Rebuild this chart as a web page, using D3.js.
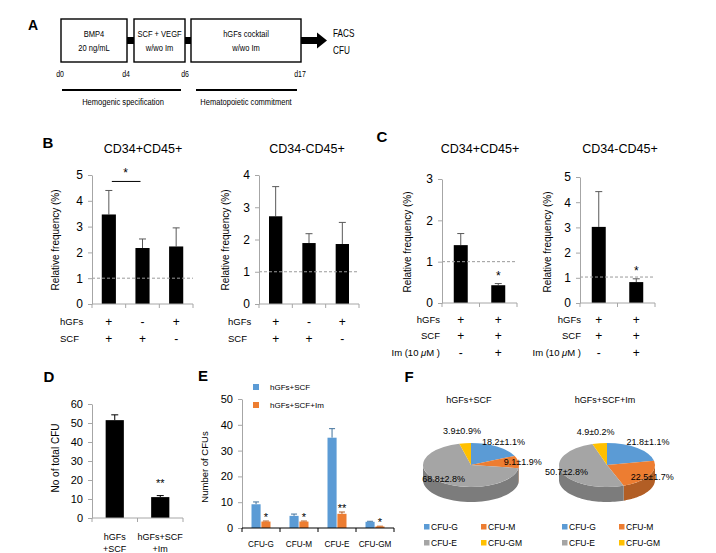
<!DOCTYPE html>
<html><head><meta charset="utf-8">
<script src="https://cdn.jsdelivr.net/npm/d3@7"></script>
<style>
body{margin:0;background:#fff;}
text{font-family:"Liberation Sans",Arial,sans-serif;fill:#000;}
</style></head><body>
<svg id="fig" width="716" height="553"></svg>
<script>
// ---------------- DATA ----------------
// Panel A (protocol diagram)
const stageLabels = [["BMP4","20 ng/mL"],["SCF + VEGF","w/wo Im"],["hGFs cocktail","w/wo Im"]];
const dayLabels = ["d0","d4","d6","d17"];
const phaseLabels = ["Hemogenic specification","Hematopoietic commitment"];
const readoutLabels = ["FACS","CFU"];
// Panel B
const bTitles = ["CD34+CD45+","CD34-CD45+"];
const bConditions = ["hGFs","SCF"];
const bSigns = [["+","-","+"],["+","+","-"]];
const b1Mean = [3.47, 2.17, 2.23];
const b1Err  = [0.93, 0.35, 0.72];
const b2Mean = [2.72, 1.89, 1.86];
const b2Err  = [0.92, 0.29, 0.67];
// Panel C
const cTitles = ["CD34+CD45+","CD34-CD45+"];
const cConditions = ["hGFs","SCF","Im (10 μM )"];
const cSigns = [["+","+"],["+","+"],["-","+"]];
const c1Mean = [1.40, 0.43];
const c1Err  = [0.28, 0.04];
const c2Mean = [3.02, 0.83];
const c2Err  = [1.40, 0.13];
const cStars = ["","*"];
// Panel D
const dGroups = [["hGFs","+SCF"],["hGFs+SCF","+Im"]];
const dMean = [51.5, 11.0];
const dErr  = [2.8, 0.8];
const dStars = ["","**"];
// Panel E
const eSeries = ["hGFs+SCF","hGFs+SCF+Im"];
const eTypes = ["CFU-G","CFU-M","CFU-E","CFU-GM"];
const eSCF    = [9.2, 4.7, 35.0, 2.4];
const eSCFErr = [0.9, 0.7, 3.5, 0.2];
const eIm     = [2.5, 2.5, 5.5, 0.6];
const eImErr  = [0.2, 0.2, 0.7, 0.1];
const eStars  = ["*","*","**","*"];
// Panel F
const fTitles = ["hGFs+SCF","hGFs+SCF+Im"];
const fTypes = ["CFU-G","CFU-M","CFU-E","CFU-GM"];
const fSCF   = [18.2, 9.1, 68.8, 3.9];
const fSCFsd = [1.1, 1.9, 2.8, 0.9];
const fIm    = [21.8, 22.5, 50.7, 4.9];
const fImSd  = [1.1, 1.7, 2.8, 0.2];

// ---------------- STYLE ----------------
const AX = "#a6a6a6";
const COLORS = ["#5B9BD5","#ED7D31","#A5A5A5","#FFC000"];
const svg = d3.select("#fig");

function txt(x, y, s, size, anchor, opts = {}) {
  const t = svg.append("text").attr("font-size", size)
    .attr("text-anchor", anchor || "start").attr("dy", "0.35em").text(s);
  if (opts.squeeze) t.attr("transform", `translate(${x},${y}) scale(${opts.squeeze},1)`);
  else t.attr("x", x).attr("y", y);
  if (opts.bold) t.attr("font-weight", "bold");
  return t;
}
function letter(x, y, s, size) { txt(x, y, s, size, "middle", {bold: true}); }
function yLabel(x, y, s, size) {
  svg.append("text").attr("transform", `translate(${x},${y}) rotate(-90)`)
    .attr("text-anchor", "middle").attr("dy", "0.35em").attr("font-size", size).text(s);
}

// ---------------- PANEL A ----------------
letter(33, 25, "A", 14);
const boxes = [[61,127],[134,185],[191,301]];
const bxTop = 19, bxBot = 62;
[[127,134],[185,191],[301,318]].forEach(([a,b]) =>
  svg.append("rect").attr("x", a).attr("y", 37).attr("width", b - a).attr("height", 7).attr("fill", "#000"));
svg.append("path").attr("d", "M317,32.5L327,40.5L317,48.5Z").attr("fill", "#000");
const NA = {squeeze: 0.82};
boxes.forEach(([a,b], i) => {
  svg.append("rect").attr("x", a).attr("y", bxTop).attr("width", b - a).attr("height", bxBot - bxTop)
    .attr("fill", "#fff").attr("stroke", "#000").attr("stroke-width", 1.4);
  txt((a + b) / 2, 34, stageLabels[i][0], 9.2, "middle", NA);
  txt((a + b) / 2, 48, stageLabels[i][1], 9.2, "middle", NA);
});
txt(333, 33, readoutLabels[0], 10, "start", NA);
txt(333, 50, readoutLabels[1], 10, "start", NA);
[60,126,185,300].forEach((x, i) => txt(x, 74, dayLabels[i], 8.5, "middle", NA));
[[62,181],[196,297]].forEach(([a,b], i) => {
  svg.append("line").attr("x1", a).attr("x2", b).attr("y1", 90).attr("y2", 90).attr("stroke", "#000").attr("stroke-width", 1.8);
  txt(i === 0 ? 123 : 246, 102, phaseLabels[i], 9.2, "middle", NA);
});

// ---------------- generic bar chart ----------------
function barChart(o) {
  const g = svg.append("g");
  const n = o.mean.length;
  const x = d3.scaleBand().domain(d3.range(n)).range([o.x0, o.x1]).paddingInner(o.pad).paddingOuter(o.pad / 2);
  const y = d3.scaleLinear().domain([0, o.yMax]).range([o.y0, o.y1]);
  const bw = x.bandwidth();
  const cx = i => x(i) + bw / 2;
  const eg = g.append("g").attr("stroke", o.errColor || "#595959").attr("stroke-width", 1);
  o.mean.forEach((d, i) => {
    const top = y(d + o.err[i]);
    eg.append("line").attr("x1", cx(i)).attr("x2", cx(i)).attr("y1", y(d)).attr("y2", top);
    eg.append("line").attr("x1", cx(i) - 3.5).attr("x2", cx(i) + 3.5).attr("y1", top).attr("y2", top);
  });
  g.selectAll("rect.bar").data(o.mean).join("rect").attr("class", "bar")
    .attr("x", (d, i) => x(i)).attr("y", d => y(d)).attr("width", bw)
    .attr("height", d => y(0) - y(d)).attr("fill", "#000");
  if (o.ref != null) {
    g.append("line").attr("x1", o.x0).attr("x2", o.x1).attr("y1", y(o.ref)).attr("y2", y(o.ref))
      .attr("stroke", "#9a9a9a").attr("stroke-width", 1).attr("stroke-dasharray", "3,2");
  }
  const ay = g.append("g").attr("transform", `translate(${o.x0},0)`)
    .call(d3.axisLeft(y).ticks(o.nTicks).tickSize(4).tickSizeOuter(0).tickPadding(5));
  ay.attr("font-family", null).attr("font-size", o.tickFont || 12);
  ay.selectAll("path,line").attr("stroke", AX);
  ay.selectAll("text").attr("fill", "#000");
  g.append("line").attr("x1", o.x0).attr("x2", o.x1).attr("y1", y(0)).attr("y2", y(0)).attr("stroke", AX);
  g.selectAll("line.xt").data(d3.range(n + 1)).join("line").attr("class", "xt")
    .attr("x1", i => o.x0 + i * x.step()).attr("x2", i => o.x0 + i * x.step())
    .attr("y1", y(0)).attr("y2", y(0) + 4).attr("stroke", AX);
  if (o.stars) o.stars.forEach((s, i) => {
    if (!s) return;
    g.append("text").attr("x", cx(i)).attr("y", y(o.mean[i] + o.err[i]) - o.starGap)
      .attr("text-anchor", "middle").attr("font-size", o.starFont || 12).text(s);
  });
  return {x, y, cx, g};
}

// ---------------- PANEL B ----------------
letter(48, 143, "B", 15);
const B1 = barChart({x0: 92, x1: 193, y0: 304, y1: 175, yMax: 5, nTicks: 5, pad: 0.58, mean: b1Mean, err: b1Err, ref: 1});
const B2 = barChart({x0: 259, x1: 359, y0: 304, y1: 175, yMax: 4, nTicks: 4, pad: 0.6, mean: b2Mean, err: b2Err, ref: 1});
txt(143, 149, bTitles[0], 12.5, "middle");
txt(307, 149, bTitles[1], 12.5, "middle");
yLabel(55, 240, "Relative frequency (%)", 10);
yLabel(225, 240, "Relative frequency (%)", 10);
B1.g.append("line").attr("x1", B1.cx(0) + 3).attr("x2", B1.cx(1) - 2)
  .attr("y1", B1.y(4.75)).attr("y2", B1.y(4.75)).attr("stroke", "#000");
B1.g.append("text").attr("x", (B1.cx(0) + B1.cx(1)) / 2).attr("y", B1.y(4.75) - 4)
  .attr("text-anchor", "middle").attr("font-size", 12).text("*");
[[B1, 60],[B2, 228]].forEach(([C, lx]) => {
  [322, 339].forEach((ry, r) => {
    txt(lx, ry, bConditions[r], 9.5, "start");
    bSigns[r].forEach((s, i) => txt(C.cx(i), ry, s, 12, "middle"));
  });
});

// ---------------- PANEL C ----------------
letter(382, 137, "C", 15);
const C1 = barChart({x0: 442, x1: 517, y0: 303, y1: 179, yMax: 3, nTicks: 3, pad: 0.627, mean: c1Mean, err: c1Err, ref: 1, stars: cStars, starGap: 4});
const C2 = barChart({x0: 580, x1: 655, y0: 303, y1: 177, yMax: 5, nTicks: 5, pad: 0.627, mean: c2Mean, err: c2Err, ref: 1.03, stars: cStars, starGap: 4});
txt(480, 149, cTitles[0], 12.5, "middle");
txt(620, 149, cTitles[1], 12.5, "middle");
yLabel(407, 242, "Relative frequency (%)", 10);
yLabel(547, 242, "Relative frequency (%)", 10);
[[C1, 440],[C2, 581]].forEach(([C, lx]) => {
  [320, 336, 353].forEach((ry, r) => {
    const t = txt(lx, ry, "", 9.5, "end");
    if (r === 2) {
      t.append("tspan").text("Im (10 ");
      t.append("tspan").attr("font-style", "italic").text("μ");
      t.append("tspan").text("M )");
    } else t.text(cConditions[r]);
    cSigns[r].forEach((s, i) => txt(C.cx(i), ry, s, 12, "middle"));
  });
});

// ---------------- PANEL D ----------------
letter(49, 377, "D", 15);
const D = barChart({x0: 92, x1: 183, y0: 518, y1: 404, yMax: 60, nTicks: 6, pad: 0.6, mean: dMean, err: dErr, errColor: "#000", tickFont: 11, stars: dStars, starGap: 9, starFont: 11});
yLabel(55, 458, "No of total CFU", 10);
dGroups.forEach((lines, i) => {
  txt(D.cx(i), 537, lines[0], 9, "middle");
  txt(D.cx(i), 549, lines[1], 9, "middle");
});

// ---------------- PANEL E ----------------
letter(203, 376, "E", 15);
(function () {
  const x0 = 242, x1 = 394, y0 = 528, y1 = 399;
  const g = svg.append("g");
  const x = d3.scaleBand().domain(eTypes).range([x0, x1]).paddingInner(0.5).paddingOuter(0.25);
  const xs = d3.scaleBand().domain(eSeries).range([0, x.bandwidth()]).paddingInner(0.08);
  const y = d3.scaleLinear().domain([0, 50]).range([y0, y1]);
  const ERRC = ["#41719C", "#AE5A21"];
  const series = [[eSCF, eSCFErr], [eIm, eImErr]];
  series.forEach(([m, e], s) => {
    const col = COLORS[s];
    m.forEach((d, i) => {
      const bx = x(eTypes[i]) + xs(eSeries[s]);
      const c = bx + xs.bandwidth() / 2;
      const top = y(d + e[i]);
      g.append("line").attr("x1", c).attr("x2", c).attr("y1", y(d)).attr("y2", top).attr("stroke", ERRC[s]);
      g.append("line").attr("x1", c - 3).attr("x2", c + 3).attr("y1", top).attr("y2", top).attr("stroke", ERRC[s]);
    });
    g.selectAll(null).data(m).join("rect")
      .attr("x", (d, i) => x(eTypes[i]) + xs(eSeries[s])).attr("y", d => y(d))
      .attr("width", xs.bandwidth()).attr("height", d => y(0) - y(d)).attr("fill", col);
  });
  const ay = g.append("g").attr("transform", `translate(${x0},0)`)
    .call(d3.axisLeft(y).ticks(5).tickSize(4).tickSizeOuter(0).tickPadding(5));
  ay.attr("font-family", null).attr("font-size", 11);
  ay.selectAll("path,line").attr("stroke", AX);
  g.append("line").attr("x1", x0).attr("x2", x1).attr("y1", y0).attr("y2", y0).attr("stroke", "#000");
  g.selectAll(null).data(d3.range(eTypes.length + 1)).join("line")
    .attr("x1", i => x0 + i * x.step()).attr("x2", i => x0 + i * x.step())
    .attr("y1", y0).attr("y2", y0 + 4).attr("stroke", "#000");
  eTypes.forEach((t, i) => {
    txt(x(t) + x.bandwidth() / 2, 544, t, 8.2, "middle");
    const c = x(t) + xs(eSeries[1]) + xs.bandwidth() / 2;
    g.append("text").attr("x", c).attr("y", y(eIm[i] + eImErr[i]) - 0.5)
      .attr("text-anchor", "middle").attr("font-size", 11).text(eStars[i]);
  });
  yLabel(205, 467, "Number of CFUs", 9.5);
  eSeries.forEach((s, i) => {
    const ly = 387 + i * 18;
    g.append("rect").attr("x", 253).attr("y", ly - 3).attr("width", 6).attr("height", 6).attr("fill", COLORS[i]);
    txt(270, ly, s, 8, "start");
  });
})();

// ---------------- PANEL F ----------------
letter(409, 377, "F", 15);
function pie3d(cx, cy, values, sds, labelK, title, legendX) {
  const rx = 48, ry = 22, depth = 15;
  const g = svg.append("g");
  const arcs = d3.pie().sort(null)(values);
  const pt = (a, dy = 0) => [cx + rx * Math.sin(a), cy - ry * Math.cos(a) + dy];
  arcs.forEach((d, i) => {
    const a0 = Math.max(d.startAngle, Math.PI / 2), a1 = Math.min(d.endAngle, 3 * Math.PI / 2);
    if (a1 <= a0) return;
    const p = d3.path();
    const N = 40;
    for (let t = 0; t <= N; t++) {
      const [px, py] = pt(a0 + (a1 - a0) * t / N);
      t === 0 ? p.moveTo(px, py) : p.lineTo(px, py);
    }
    for (let t = N; t >= 0; t--) {
      const [px, py] = pt(a0 + (a1 - a0) * t / N, depth);
      p.lineTo(px, py);
    }
    p.closePath();
    g.append("path").attr("d", p.toString()).attr("fill", d3.color(COLORS[i]).darker(0.8));
  });
  const arc = d3.arc().innerRadius(0).outerRadius(rx);
  g.append("g").attr("transform", `translate(${cx},${cy}) scale(1,${ry / rx})`)
    .selectAll("path").data(arcs).join("path").attr("d", arc).attr("fill", (d, i) => COLORS[i]);
  arcs.forEach((d, i) => {
    const mid = (d.startAngle + d.endAngle) / 2;
    const lx = cx + rx * labelK[i] * Math.sin(mid);
    const ly = cy - ry * labelK[i] * Math.cos(mid);
    txt(lx, ly, `${values[i].toFixed(1)}±${sds[i].toFixed(1)}%`, 9, "middle");
  });
  txt(cx - 2, 400, title, 9, "middle");
  fTypes.forEach((t, i) => {
    const lx = legendX + (i % 2) * 57, ly = 527 + Math.floor(i / 2) * 16;
    g.append("rect").attr("x", lx).attr("y", ly - 3).attr("width", 5.5).attr("height", 5.5).attr("fill", COLORS[i]);
    txt(lx + 7, ly, t, 8.5, "start");
  });
}
pie3d(471, 465, fSCF, fSCFsd, [1.25, 1.09, 0.85, 1.55], fTitles[0], 424);
pie3d(607, 465, fIm, fImSd, [1.35, 1.08, 0.89, 1.54], fTitles[1], 562);
</script>
</body></html>
